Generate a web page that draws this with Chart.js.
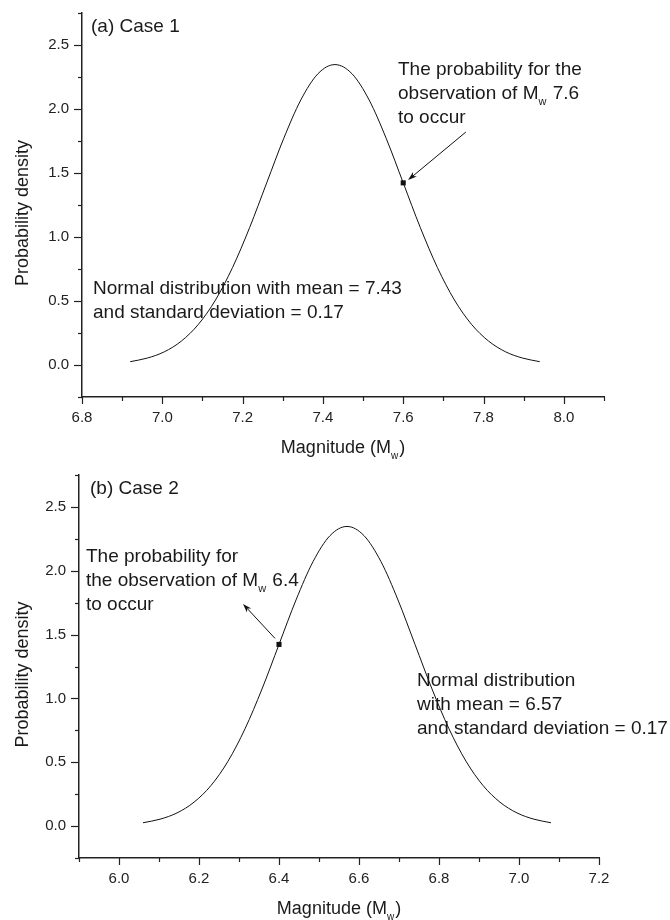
<!DOCTYPE html>
<html><head><meta charset="utf-8">
<script src="https://cdn.jsdelivr.net/npm/chart.js@4/dist/chart.umd.min.js"></script>
<style>
html,body{margin:0;padding:0;background:#fff;}
#wrap{position:relative;width:670px;height:920px;background:#fff;}
.pane{position:absolute;left:0;width:670px;height:460px;}
</style></head><body>
<div id="wrap">
<div class="pane" style="top:0"><canvas id="c1" width="670" height="460"></canvas></div>
<div class="pane" style="top:460px"><canvas id="c2" width="670" height="460"></canvas></div>
</div>
<script>
// ---------- DATA ----------
const case1Magnitude = [6.92,6.9625,7.005,7.0475,7.09,7.1325,7.175,7.2175,7.26,7.3025,7.345,7.3875,7.43,7.4725,7.515,7.5575,7.6,7.6425,7.685,7.7275,7.77,7.8125,7.855,7.8975,7.94];
const case1Density   = [0.026,0.054,0.103,0.187,0.318,0.508,0.762,1.074,1.423,1.771,2.071,2.275,2.347,2.275,2.071,1.771,1.423,1.074,0.762,0.508,0.318,0.187,0.103,0.054,0.026];
const case2Magnitude = [6.06,6.1025,6.145,6.1875,6.23,6.2725,6.315,6.3575,6.40,6.4425,6.485,6.5275,6.57,6.6125,6.655,6.6975,6.74,6.7825,6.825,6.8675,6.91,6.9525,6.995,7.0375,7.08];
const case2Density   = [0.026,0.054,0.103,0.187,0.318,0.508,0.762,1.074,1.423,1.771,2.071,2.275,2.347,2.275,2.071,1.771,1.423,1.074,0.762,0.508,0.318,0.187,0.103,0.054,0.026];
const case1ObservedMagnitude = [7.6];
const case1ObservedDensity   = [1.423];
const case2ObservedMagnitude = [6.4];
const case2ObservedDensity   = [1.423];
const case1XTickLabels = ["6.8","7.0","7.2","7.4","7.6","7.8","8.0"];
const case2XTickLabels = ["6.0","6.2","6.4","6.6","6.8","7.0","7.2"];
const yTickLabels = ["0.0","0.5","1.0","1.5","2.0","2.5"];
const case1Panel = "(a) Case 1";
const case2Panel = "(b) Case 2";
const case1Note = ["Normal distribution with mean = 7.43","and standard deviation = 0.17"];
const case2Note = ["Normal distribution","with mean = 6.57","and standard deviation = 0.17"];
const case1Arrow = [["The probability for the"],["observation of M","w"," 7.6"],["to occur"]];
const case2Arrow = [["The probability for"],["the observation of M","w"," 6.4"],["to occur"]];
const yTitle = "Probability density";
const xTitle = ["Magnitude (M","w",")"];

// ---------- DRAWING ----------
const FONT = '"Liberation Sans", Arial, Helvetica, sans-serif';

function richText(ctx, parts, x, y, size) {
  let cx = x;
  parts.forEach((t, i) => {
    const sub = i % 2 === 1;
    ctx.font = (sub ? Math.round(size * 0.58) : size) + 'px ' + FONT;
    ctx.fillText(t, cx, sub ? y + size * 0.32 : y);
    cx += ctx.measureText(t).width + (sub ? 1 : 0);
  });
  return cx - x;
}
function richWidth(ctx, parts, size) {
  let w = 0;
  parts.forEach((t, i) => {
    const sub = i % 2 === 1;
    ctx.font = (sub ? Math.round(size * 0.58) : size) + 'px ' + FONT;
    w += ctx.measureText(t).width + (sub ? 1 : 0);
  });
  return w;
}
function arrow(ctx, x1, y1, x2, y2) {
  const ang = Math.atan2(y2 - y1, x2 - x1);
  const L = 9, W = 3;
  ctx.beginPath();
  ctx.moveTo(x1, y1);
  ctx.lineTo(x2 - Math.cos(ang) * L * 0.7, y2 - Math.sin(ang) * L * 0.7);
  ctx.stroke();
  ctx.beginPath();
  ctx.moveTo(x2, y2);
  ctx.lineTo(x2 - Math.cos(ang) * L - Math.sin(ang) * W, y2 - Math.sin(ang) * L + Math.cos(ang) * W);
  ctx.lineTo(x2 - Math.cos(ang) * L * 0.7, y2 - Math.sin(ang) * L * 0.7);
  ctx.lineTo(x2 - Math.cos(ang) * L + Math.sin(ang) * W, y2 - Math.sin(ang) * L - Math.cos(ang) * W);
  ctx.closePath();
  ctx.fill();
}

const decor = {
  id: 'decor',
  afterDraw(chart, args, o) {
    const {ctx, chartArea: a, scales: {x, y}} = chart;
    ctx.save();
    ctx.strokeStyle = '#222'; ctx.fillStyle = '#222'; ctx.lineWidth = 1.2;
    for (let v = o.xMin; v <= o.xMax + 1e-9; v += 0.1) {
      const major = Math.abs(Math.round(v * 5) - v * 5) < 1e-6;
      const px = Math.round(x.getPixelForValue(v)) + 0.5;
      ctx.beginPath(); ctx.moveTo(px, a.bottom); ctx.lineTo(px, a.bottom + (major ? 7 : 4)); ctx.stroke();
    }
    for (let v = -0.25; v <= 2.75 + 1e-9; v += 0.25) {
      const major = Math.abs(Math.round(v * 2) - v * 2) < 1e-6;
      const py = Math.round(y.getPixelForValue(v)) + 0.5;
      ctx.beginPath(); ctx.moveTo(a.left, py); ctx.lineTo(a.left - (major ? 8 : 4), py); ctx.stroke();
    }
    ctx.fillStyle = '#1a1a1a';
    ctx.textBaseline = 'alphabetic';
    ctx.save();
    ctx.translate(o.yTitleX, (a.top + a.bottom) / 2 + 8);
    ctx.rotate(-Math.PI / 2);
    ctx.font = '18px ' + FONT; ctx.textAlign = 'center';
    ctx.fillText(yTitle, 0, 0);
    ctx.restore();
    ctx.textAlign = 'left';
    const tw = richWidth(ctx, xTitle, 18);
    richText(ctx, xTitle, (a.left + a.right) / 2 - tw / 2, a.bottom + 56, 18);
    ctx.font = '19px ' + FONT;
    ctx.fillText(o.panel, o.panelPos[0], o.panelPos[1]);
    o.note.forEach((t, i) => ctx.fillText(t, o.notePos[0], o.notePos[1] + i * 24));
    o.arrowText.forEach((parts, i) => richText(ctx, parts, o.arrowTextPos[0], o.arrowTextPos[1] + i * 24, 19));
    ctx.strokeStyle = '#111'; ctx.fillStyle = '#111'; ctx.lineWidth = 1;
    arrow(ctx, x.getPixelForValue(o.arrowFrom[0]), y.getPixelForValue(o.arrowFrom[1]),
               x.getPixelForValue(o.arrowTo[0]), y.getPixelForValue(o.arrowTo[1]));
    ctx.restore();
  }
};

function makeChart(id, mags, dens, obsX, obsY, xLabels, xMin, xMax, layout, deco) {
  const majors = xLabels.map(Number);
  return new Chart(document.getElementById(id), {
    type: 'scatter',
    data: {
      datasets: [
        { data: mags.map((m, i) => ({x: m, y: dens[i]})), showLine: true, borderColor: '#111', borderWidth: 1,
          pointRadius: 0, cubicInterpolationMode: 'monotone', fill: false },
        { data: obsX.map((m, i) => ({x: m, y: obsY[i]})), pointStyle: 'rect', pointRadius: 3.6,
          backgroundColor: '#111', borderColor: '#111', borderWidth: 0 }
      ]
    },
    options: {
      responsive: false, animation: false, devicePixelRatio: 1,
      layout: { padding: { top: layout.top, right: layout.right, left: 0, bottom: 0 } },
      plugins: { legend: { display: false }, tooltip: { enabled: false }, decor: deco },
      scales: {
        x: {
          type: 'linear', min: xMin, max: xMax,
          afterBuildTicks: s => { s.ticks = majors.map(v => ({value: v})); },
          afterFit: s => { s.height = layout.xH; s.paddingLeft = 0; s.paddingRight = 0; },
          grid: { display: false, drawTicks: false },
          border: { display: true, color: '#222', width: 1.5 },
          ticks: { autoSkip: false, maxRotation: 0, padding: 12, color: '#222',
                   font: { family: FONT, size: 15 },
                   callback: v => { const k = majors.findIndex(m => Math.abs(m - v) < 1e-6); return k >= 0 ? xLabels[k] : ''; } }
        },
        y: {
          type: 'linear', min: -0.25, max: 2.75,
          afterBuildTicks: s => { s.ticks = yTickLabels.map(t => ({value: Number(t)})); },
          afterFit: s => { s.width = layout.yW; s.paddingTop = 0; s.paddingBottom = 0; },
          grid: { display: false, drawTicks: false },
          border: { display: true, color: '#222', width: 1.5 },
          ticks: { autoSkip: false, padding: 13, color: '#222', font: { family: FONT, size: 15 },
                   callback: v => { const k = yTickLabels.findIndex(t => Math.abs(Number(t) - v) < 1e-6); return k >= 0 ? yTickLabels[k] : ''; } }
        }
      }
    },
    plugins: [decor]
  });
}

makeChart('c1', case1Magnitude, case1Density, case1ObservedMagnitude, case1ObservedDensity,
  case1XTickLabels, 6.8, 8.1, { top: 13, right: 66, xH: 63, yW: 82 },
  { xMin: 6.8, xMax: 8.1, yTitleX: 28, panel: case1Panel, panelPos: [91, 32],
    note: case1Note, notePos: [93, 294], arrowText: case1Arrow, arrowTextPos: [398, 75],
    arrowFrom: [7.756, 1.82], arrowTo: [7.612, 1.445] });

makeChart('c2', case2Magnitude, case2Density, case2ObservedMagnitude, case2ObservedDensity,
  case2XTickLabels, 5.9, 7.2, { top: 15, right: 71, xH: 62, yW: 79 },
  { xMin: 5.9, xMax: 7.2, yTitleX: 28, panel: case2Panel, panelPos: [90, 34],
    note: case2Note, notePos: [417, 226], arrowText: case2Arrow, arrowTextPos: [86, 102],
    arrowFrom: [6.39, 1.47], arrowTo: [6.31, 1.74] });
</script>
</body></html>
